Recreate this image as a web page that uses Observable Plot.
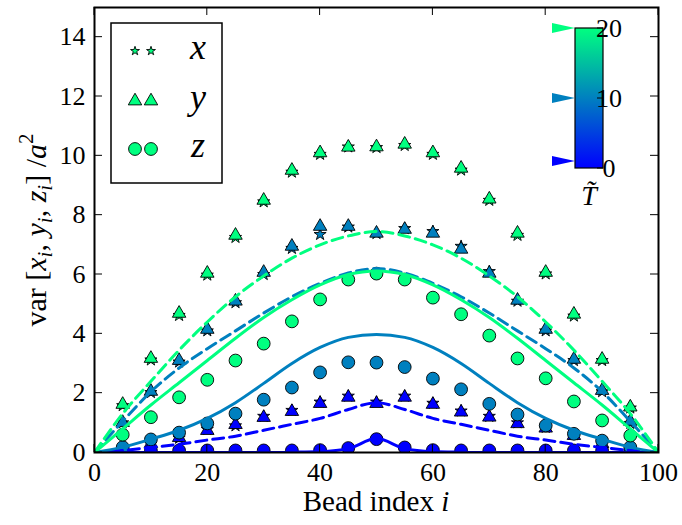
<!DOCTYPE html>
<html><head><meta charset="utf-8">
<script src="https://cdn.jsdelivr.net/npm/d3@7"></script>
<script src="https://cdn.jsdelivr.net/npm/@observablehq/plot@0.6"></script>
<style>
body{margin:0;background:#fff;}
#chart{position:relative;width:682px;height:525px;}
#chart svg, #chart svg text{font-family:"Liberation Serif","Times New Roman","DejaVu Serif",serif;}
</style></head><body><div id="chart"></div>
<script>
// ---------- data ----------
const beadIdx = [5,10,15,20,25,30,35,40,45,50,55,60,65,70,75,80,85,90,95];
const temps = [0, 10, 20];
const tempColors = ["#0000ff", "#0080bf", "#00ff80"];

// T = 0
const x_T0 = [0.08,0.28,0.48,0.78,0.9,1.22,1.42,1.7,1.9,1.7,1.9,1.66,1.4,1.22,1.0,0.85,0.6,0.32,0.1];
const y_T0 = [0.1,0.3,0.5,0.74,0.94,1.18,1.38,1.65,1.86,1.65,1.86,1.62,1.36,1.19,0.97,0.82,0.57,0.3,0.1];
const z_T0 = [0.07,0.07,0.07,0.07,0.07,0.07,0.07,0.08,0.15,0.45,0.17,0.08,0.07,0.07,0.07,0.07,0.07,0.07,0.07];
// T = 10
const x_T10 = [1.0,2.02,3.05,4.1,5.05,6.0,6.88,7.35,7.6,7.38,7.55,7.45,6.95,6.1,5.1,4.1,3.1,2.05,0.98];
const y_T10 = [1.01,2.06,3.1,4.15,5.1,6.07,6.95,7.62,7.62,7.39,7.52,7.39,6.85,6.04,5.13,4.15,3.14,2.09,1.05];
const z_T10 = [0.18,0.44,0.67,0.98,1.31,1.78,2.19,2.7,3.04,3.03,2.88,2.49,2.13,1.64,1.28,0.91,0.63,0.4,0.18];
// T = 20
const x_T20 = [1.58,3.12,4.62,5.98,7.25,8.45,9.45,10.05,10.3,10.28,10.35,10.05,9.52,8.5,7.32,6.02,4.6,3.1,1.5];
const y_T20 = [1.62,3.17,4.69,6.04,7.32,8.5,9.51,10.1,10.29,10.3,10.39,10.1,9.58,8.54,7.39,6.07,4.66,3.14,1.53];
const z_T20 = [0.6,1.19,1.86,2.45,3.1,3.67,4.42,5.16,5.83,6.03,5.83,5.22,4.66,3.94,3.17,2.5,1.72,1.08,0.57];

// theory curves (read at every 5 beads)
const lineIdx = [0,5,10,15,20,25,30,35,40,45,50,55,60,65,70,75,80,85,90,95,100];
const solid_T0  = [0,0,0,0,0,0,0,0.01,0.03,0.13,0.47,0.13,0.03,0.01,0,0,0,0,0,0,0];
const dashed_T0 = [0,0.07,0.17,0.28,0.42,0.55,0.75,0.95,1.15,1.45,1.68,1.45,1.15,0.95,0.75,0.55,0.42,0.28,0.17,0.07,0];
const solid_T10 = [0,0.18,0.45,0.75,1.15,1.68,2.33,3.0,3.54,3.88,3.98,3.88,3.54,3.0,2.33,1.68,1.15,0.75,0.45,0.18,0];
const dashed_T10= [0,1.05,2.05,2.85,3.5,4.1,4.7,5.25,5.7,6.05,6.2,6.05,5.7,5.25,4.7,4.1,3.5,2.85,2.05,1.05,0];
const solid_T20 = [0,0.8,1.6,2.35,3.1,3.85,4.55,5.15,5.65,6.0,6.12,6.0,5.65,5.15,4.55,3.85,3.1,2.35,1.6,0.8,0];
const dashed_T20= [0,1.31,2.4,3.45,4.4,5.25,5.95,6.55,7.0,7.3,7.45,7.3,7.0,6.55,5.95,5.25,4.4,3.45,2.4,1.31,0];

const xTicks = [0,20,40,60,80,100];
const yTicks = [0,2,4,6,8,10,12,14];
const cbTicks = [0,10,20];
const compNames = ["x","y","z"];

// ---------- build ----------
const pointSets = [[x_T0,y_T0,z_T0],[x_T10,y_T10,z_T10],[x_T20,y_T20,z_T20]];
const lineSets = [[solid_T0,dashed_T0],[solid_T10,dashed_T10],[solid_T20,dashed_T20]];
const symbolOf = {x:"star", y:"triangle", z:"circle"};
const rOf = {x:3.8, y:5.0, z:6.4};
const serif = '"Liberation Serif","Times New Roman","DejaVu Serif",serif';

const marks = [];
temps.forEach((T, ti) => {
  compNames.forEach((c, ci) => {
    const data = beadIdx.map((i,k) => ({i, v: pointSets[ti][ci][k]}));
    marks.push(Plot.dot(data, {x:"i", y:"v", symbol: () => symbolOf[c], r: rOf[c],
      fill: tempColors[ti], stroke:"#000", strokeWidth:0.9, clip:true}));
  });
});
temps.forEach((T, ti) => {
  lineSets[ti].forEach((arr, li) => {
    const data = lineIdx.map((i,k) => ({i, v: arr[k]}));
    marks.push(Plot.line(data, {x:"i", y:"v", stroke: tempColors[ti], strokeWidth:3,
      strokeDasharray: li === 1 ? "11,6" : null, curve:"monotone-x", clip:true}));
  });
});

const plot = Plot.plot({
  width: 682, height: 525,
  marginLeft: 94, marginRight: 24, marginTop: 7, marginBottom: 73,
  style: {fontFamily: serif, fontSize: "26px", background: "#fff", color:"#000"},
  x: {domain: [0,100]},
  y: {domain: [0,15]},
  symbol: {type: "identity"},
  marks: [
    ...marks,
    Plot.axisX(xTicks, {tickSize: 0, tickPadding: 10, label: null, fontSize: 26}),
    Plot.axisY(yTicks, {tickSize: 0, tickPadding: 9, label: null, fontSize: 26}),
    Plot.frame({stroke:"#000", strokeWidth: 2})
  ]
});
document.getElementById("chart").appendChild(plot);

// ---------- decorations with d3 ----------
const svg = d3.select(plot);
const sx = plot.scale("x"), sy = plot.scale("y");
const X = v => sx.apply(v), Y = v => sy.apply(v);
const x0 = X(0), x1 = X(100), y0 = Y(0), y1 = Y(15);
const tl = 8;
const tg = svg.append("g").attr("stroke","#000").attr("stroke-width",1);
xTicks.forEach(t => {
  tg.append("line").attr("x1",X(t)).attr("x2",X(t)).attr("y1",y0).attr("y2",y0-tl);
  tg.append("line").attr("x1",X(t)).attr("x2",X(t)).attr("y1",y1).attr("y2",y1+tl);
});
yTicks.forEach(t => {
  tg.append("line").attr("y1",Y(t)).attr("y2",Y(t)).attr("x1",x0).attr("x2",x0+tl);
  tg.append("line").attr("y1",Y(t)).attr("y2",Y(t)).attr("x1",x1).attr("x2",x1-tl);
});

// axis labels
const xl = svg.append("text").attr("x",(x0+x1)/2).attr("y",511).attr("text-anchor","middle")
  .attr("font-family",serif).attr("font-size",29).attr("fill","#000");
xl.append("tspan").text("Bead index ");
xl.append("tspan").attr("font-style","italic").text("i");

const yl = svg.append("text").attr("transform","translate(46,230) rotate(-90)").attr("text-anchor","middle")
  .attr("font-family",serif).attr("font-size",30).attr("fill","#000");
const parts = [["var ",0,0],["[",0,0],["x",1,0],["i",1,1],[", ",0,-1],["y",1,0],["i",1,1],[", ",0,-1],["z",1,0],["i",1,1],["]",0,-1],[" /",0,0],["a",1,0],["2",0,2]];
parts.forEach(([t,it,sub]) => {
  const ts = yl.append("tspan").text(t);
  if (it) ts.attr("font-style","italic");
  if (sub === 1) ts.attr("dy", 6).attr("font-size",21);
  if (sub === -1) ts.attr("dy", -6);
  if (sub === 2) ts.attr("dy", -13).attr("font-size",21);
});

// legend
const lg = svg.append("g");
lg.append("rect").attr("x",111).attr("y",23).attr("width",111).attr("height",160)
  .attr("fill","#fff").attr("stroke","#000").attr("stroke-width",1.5);
const legY = [51, 101, 149];
compNames.forEach((c, k) => {
  const sym = {x: d3.symbolStar, y: d3.symbolTriangle, z: d3.symbolCircle}[c];
  const rr = c === "x" ? 2.8 : rOf[c];
  const path = d3.symbol(sym, Math.PI*rr*rr)();
  [135, 151].forEach(px => {
    lg.append("path").attr("d", path).attr("transform",`translate(${px},${legY[k]})`)
      .attr("fill", tempColors[2]).attr("stroke","#000").attr("stroke-width",0.9);
  });
  lg.append("text").attr("x",198).attr("y",legY[k]+8).attr("text-anchor","middle")
    .attr("font-family",serif).attr("font-style","italic").attr("font-size",36).text(c);
});

// colorbar
const tScale = d3.scaleLinear([0,20],[168,28]);
const defs = svg.append("defs");
const grad = defs.append("linearGradient").attr("id","cbgrad").attr("x1",0).attr("x2",0).attr("y1",1).attr("y2",0);
const cmap = d3.interpolateRgb(tempColors[0], tempColors[2]);
d3.range(0,1.0001,0.1).forEach(s => grad.append("stop").attr("offset",s).attr("stop-color",cmap(s)));
const cb = svg.append("g");
cb.append("rect").attr("x",575).attr("y",tScale(20)).attr("width",28).attr("height",tScale(0)-tScale(20))
  .attr("fill","url(#cbgrad)").attr("stroke","#000").attr("stroke-width",1.2);
cbTicks.forEach(t => {
  cb.append("line").attr("x1",597).attr("x2",603).attr("y1",tScale(t)).attr("y2",tScale(t)).attr("stroke","#000");
  cb.append("text").attr("x",609).attr("y",tScale(t)+9).attr("font-family",serif).attr("font-size",26).text(t);
});
temps.forEach((T, ti) => {
  const ty = Math.min(tScale(T), tScale(0) - 7);
  cb.append("polygon").attr("points",`575,${ty} 552,${ty-5} 552,${ty+5}`).attr("fill",tempColors[ti]);
});
cb.append("text").attr("x",589).attr("y",205).attr("text-anchor","middle")
  .attr("font-family",serif).attr("font-style","italic").attr("font-size",28).text("T\u0303");
</script></body></html>
